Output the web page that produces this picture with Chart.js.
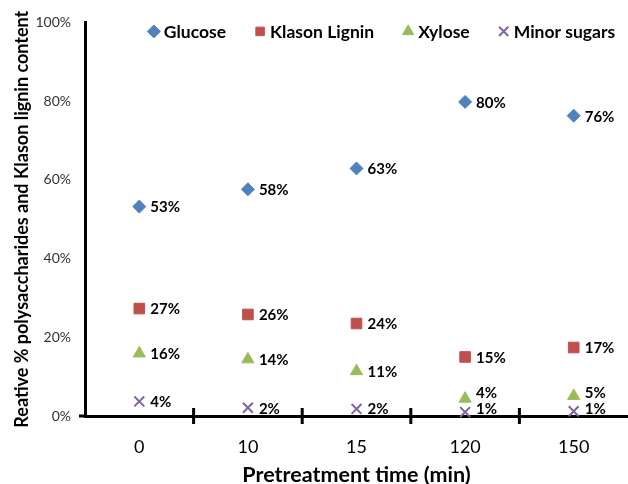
<!DOCTYPE html>
<html lang="en">
<head>
    <meta charset="UTF-8">
    <script src="https://cdn.jsdelivr.net/npm/chart.js"></script>
    <title>Pretreatment time</title>
    <style>
        body { margin: 0; background: #fff; }
        #wrap { width: 628px; height: 484px; overflow: hidden; }
    </style>
</head>
<body>
<div id="wrap">
    <canvas id="compChart" width="628" height="484"></canvas>
</div>

<script>
    // values (% of total)
    const times = ['0', '10', '15', '120', '150'];
    const glucose = [53.2, 57.6, 62.9, 79.8, 76.3];
    const klasonLignin = [27.3, 25.8, 23.5, 15.0, 17.4];
    const xylose = [15.9, 14.4, 11.4, 4.4, 5.1];
    const minorSugars = [3.7, 2.1, 1.8, 1.0, 1.2];
    const yTicks = [0, 20, 40, 60, 80, 100];

    const FONT = 'Lato, "Open Sans", sans-serif';

    // value labels right of each marker, nudged apart when they would overlap
    const pointLabels = {
        id: 'pointLabels',
        afterDatasetsDraw(chart) {
            const ctx = chart.ctx;
            const minGap = 16;
            ctx.save();
            ctx.font = 'bold 15px ' + FONT;
            ctx.fillStyle = '#000';
            ctx.textBaseline = 'middle';
            for (let j = 0; j < times.length; j++) {
                const items = chart.data.datasets.map((ds, i) => {
                    const pt = chart.getDatasetMeta(i).data[j];
                    return { x: pt.x, ly: pt.y, text: Math.round(ds.data[j]) + '%' };
                }).sort((a, b) => a.ly - b.ly);
                for (let k = 1; k < items.length; k++) {
                    const gap = items[k].ly - items[k - 1].ly;
                    if (gap < minGap) {
                        items[k - 1].ly -= (minGap - gap) * 0.7;
                        items[k].ly += (minGap - gap) * 0.3;
                    }
                }
                // keep labels off the axis line
                let limit = chart.chartArea.bottom - 8;
                for (let k = items.length - 1; k >= 0; k--) {
                    items[k].ly = Math.min(items[k].ly, limit);
                    limit = items[k].ly - minGap;
                }
                items.forEach(it => ctx.fillText(it.text, it.x + 11, it.ly + 1));
            }
            ctx.restore();
        }
    };

    // x-axis tick marks between categories, crossing the axis line
    const crossTicks = {
        id: 'crossTicks',
        afterDraw(chart) {
            const x = chart.scales.x;
            const y0 = chart.chartArea.bottom;
            const ctx = chart.ctx;
            ctx.save();
            ctx.strokeStyle = '#000';
            ctx.lineWidth = 3;
            for (let i = 0; i < times.length - 1; i++) {
                const px = (x.getPixelForValue(i) + x.getPixelForValue(i + 1)) / 2;
                ctx.beginPath();
                ctx.moveTo(px, y0 - 8);
                ctx.lineTo(px, y0 + 8);
                ctx.stroke();
            }
            ctx.beginPath();
            ctx.moveTo(chart.chartArea.left - 6, y0);
            ctx.lineTo(chart.chartArea.left, y0);
            ctx.stroke();
            ctx.restore();
        }
    };

    // one-row legend drawn inside the top of the plot
    const innerLegend = {
        id: 'innerLegend',
        afterDraw(chart) {
            const ctx = chart.ctx;
            const area = chart.chartArea;
            ctx.save();
            ctx.font = 'bold 17.5px ' + FONT;
            ctx.textBaseline = 'middle';
            const gap = 28, mark = 12, sp = 4;
            const widths = chart.data.datasets.map(ds => mark + sp + ctx.measureText(ds.label).width);
            const total = widths.reduce((a, b) => a + b, 0) + gap * (widths.length - 1);
            let x = (area.left + 628) / 2 + 25 - total / 2;
            const y = area.top + 9;
            chart.data.datasets.forEach((ds, i) => {
                ctx.fillStyle = ds.backgroundColor;
                ctx.strokeStyle = ds.borderColor;
                ctx.lineWidth = ds.pointBorderWidth;
                Chart.helpers.drawPoint(ctx, {
                    pointStyle: ds.pointStyle,
                    radius: ds.pointStyle === 'rect' ? 6 : 6.5,
                    rotation: 0,
                    borderWidth: ds.pointBorderWidth
                }, x + mark / 2, y);
                ctx.fillStyle = '#000';
                ctx.fillText(ds.label, x + mark + sp, y + 1);
                x += widths[i] + gap;
            });
            ctx.restore();
        }
    };

    function series(label, data, color, style, radius) {
        return {
            label: label,
            data: data,
            showLine: false,
            pointStyle: style,
            pointRadius: radius,
            pointHoverRadius: radius,
            backgroundColor: color,
            borderColor: color,
            pointBorderWidth: style === 'crossRot' ? 2 : 1
        };
    }

    const ctx = document.getElementById('compChart').getContext('2d');
    const myChart = new Chart(ctx, {
        type: 'line',
        data: {
            labels: times,
            datasets: [
                series('Glucose', glucose, '#4F81BD', 'rectRot', 6.5),
                series('Klason Lignin', klasonLignin, '#C0504D', 'rect', 7.5),
                series('Xylose', xylose, '#9BBB59', 'triangle', 7),
                series('Minor sugars', minorSugars, '#8064A2', 'crossRot', 7)
            ]
        },
        options: {
            responsive: false,
            animation: false,
            clip: false,
            layout: {
                autoPadding: false,
                padding: { top: 22, right: -9, left: 11, bottom: 0 }
            },
            plugins: {
                tooltip: { enabled: false },
                legend: { display: false }
            },
            scales: {
                x: {
                    type: 'category',
                    offset: true,
                    afterFit(scale) {
                        scale.height = 68;
                        scale.paddingLeft = 0;
                        scale.paddingRight = 0;
                    },
                    grid: { display: false, drawTicks: false },
                    border: { display: true, color: '#000', width: 3 },
                    ticks: {
                        padding: 20,
                        color: '#000',
                        font: { family: FONT, size: 18 }
                    },
                    title: {
                        display: true,
                        text: 'Pretreatment time (min)',
                        color: '#000',
                        padding: { top: 0, bottom: -4 },
                        font: { family: FONT, size: 21.5, weight: 'bold' }
                    }
                },
                y: {
                    min: 0,
                    max: 100,
                    afterBuildTicks(scale) {
                        scale.ticks = yTicks.map(v => ({ value: v }));
                    },
                    afterFit(scale) { scale.width = 74; },
                    grid: { display: false, drawTicks: false },
                    border: { display: true, color: '#000', width: 3 },
                    ticks: {
                        padding: 14,
                        color: '#333',
                        font: { family: FONT, size: 14 },
                        callback: v => v + '%'
                    },
                    title: {
                        display: true,
                        text: 'Reative % polysaccharides and Klason lignin content',
                        color: '#000',
                        padding: { top: 0, bottom: 0 },
                        font: { family: FONT, size: 18, weight: 'bold' }
                    }
                }
            }
        },
        plugins: [pointLabels, crossTicks, innerLegend]
    });
</script>
</body>
</html>
